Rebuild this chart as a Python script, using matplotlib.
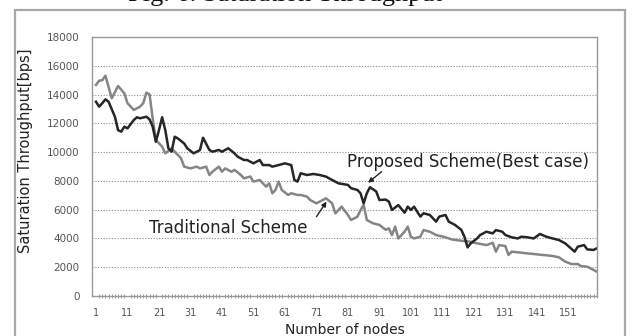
import matplotlib
matplotlib.use("Agg")
import matplotlib.pyplot as plt
from matplotlib.patches import Rectangle

# ---- data ----
proposed_nodes = [1, 2, 3, 4, 5, 7, 8, 9, 10, 11, 13, 14, 15, 17, 18, 19, 20, 21, 22, 23,
                  24, 25, 26, 27, 29, 30, 32, 34, 35, 37, 38, 40, 41, 43, 45, 46, 48, 49, 51, 53,
                  54, 56, 57, 59, 61, 63, 64, 65, 66, 68, 70, 72, 74, 76, 78, 81, 82, 84, 85, 86,
                  87, 88, 90, 91, 93, 94, 95, 97, 99, 100, 101, 102, 104, 105, 107, 109, 110, 112, 113, 115,
                  117, 118, 119, 120, 122, 123, 125, 127, 128, 130, 131, 133, 135, 136, 138, 140, 142, 144, 146, 148,
                  150, 153, 154, 156, 157, 159, 160]
proposed_values = [13500, 13160, 13400, 13670, 13500, 12460, 11530, 11420, 11770, 11650, 12230, 12420, 12350, 12460, 12280, 11770, 10720, 11530, 12420, 11530,
                   10260, 10030, 11070, 10950, 10600, 10260, 9915, 10140, 11000, 10150, 10030, 10150, 10030, 10265, 9910, 9680, 9450, 9450, 9220, 9450,
                   9100, 9100, 8990, 9100, 9220, 9100, 8060, 7950, 8530, 8410, 8480, 8410, 8300, 8060, 7830, 7720, 7490, 7370, 7140, 6440,
                   7140, 7560, 7260, 6670, 6700, 6560, 5980, 6320, 5790, 6210, 5980, 6210, 5520, 5750, 5630, 5170, 5520, 5630, 5170, 4940,
                   4600, 4120, 3380, 3660, 4000, 4240, 4470, 4350, 4580, 4470, 4240, 4080, 4000, 4120, 4080, 4000, 4310, 4120, 4000, 3890,
                   3660, 3080, 3430, 3540, 3240, 3200, 3310]

traditional_nodes = [1, 2, 3, 4, 6, 8, 10, 11, 13, 15, 16, 17, 18, 19, 20, 22, 23, 25, 26, 28,
                     29, 31, 33, 34, 36, 37, 38, 40, 41, 42, 44, 45, 47, 48, 50, 51, 53, 55, 56, 57,
                     58, 59, 60, 62, 63, 65, 66, 68, 69, 71, 73, 74, 76, 77, 79, 81, 82, 84, 85, 86,
                     87, 89, 91, 93, 94, 95, 96, 97, 99, 100, 101, 102, 104, 105, 107, 109, 112, 114, 117, 120,
                     122, 125, 127, 128, 129, 131, 132, 133, 136, 138, 140, 142, 144, 146, 148, 150, 152, 154, 155, 157,
                     158, 160]
traditional_values = [14670, 14965, 15000, 15310, 13740, 14595, 14085, 13400, 12930, 13160, 13400, 14130, 14020, 12350, 10840, 10380, 9915, 10260, 10030, 9570,
                      8990, 8870, 8990, 8870, 8990, 8410, 8640, 8990, 8640, 8870, 8640, 8760, 8410, 8180, 8300, 7950, 8060, 7600, 7830, 7140,
                      7370, 7950, 7370, 7020, 7140, 7020, 7020, 6910, 6670, 6440, 6670, 6790, 6440, 5740, 6210, 5630, 5280, 5510, 5970, 6330,
                      5280, 5050, 4940, 4600, 4700, 4240, 4820, 4000, 4470, 4820, 4120, 4000, 4120, 4580, 4470, 4240, 4080, 3930, 3840, 3770,
                      3660, 3540, 3700, 3080, 3540, 3470, 2850, 3080, 3010, 2960, 2920, 2870, 2830, 2780, 2690, 2390, 2220, 2220, 2080, 2040,
                      1920, 1700]

x_ticks = list(range(1, 152, 10))
y_ticks = list(range(0, 18001, 2000))

W, H = 635, 336
fig = plt.figure(figsize=(W / 100, H / 100), dpi=100)
fig.patch.set_facecolor("white")

# outer frame
fig.add_artist(Rectangle((15 / W, -0.05), 610 / W, (1 - 10 / H) + 0.05,
                         transform=fig.transFigure, fill=False,
                         edgecolor="#a8a8a8", linewidth=1.6))
# cut-off caption at top (only its lower part is visible in the reference)
fig.text(128 / W, 1 - 1.5 / H, "Fig. 6. Saturation Throughput", family="Liberation Serif",
         fontsize=19, ha="left", va="baseline", color="#111111")

ax = fig.add_axes([92 / W, 1 - 296 / H, (597 - 92) / W, (296 - 37) / H])
ax.plot(traditional_nodes, traditional_values, color="#858585", linewidth=1.8, solid_joinstyle="round")
ax.plot(proposed_nodes, proposed_values, color="#262626", linewidth=1.8, solid_joinstyle="round")

ax.set_xlim(-0.27, 160.1)
ax.set_ylim(0, 18000)
ax.set_xticks(x_ticks)
ax.set_xticklabels([str(t) for t in x_ticks])
ax.set_yticks(y_ticks)
ax.set_yticklabels([str(t) for t in y_ticks])
ax.set_xticks(range(1, 161), minor=True)
ax.tick_params(axis="x", which="major", length=0, labelsize=7, colors="#555555", pad=9)
ax.tick_params(axis="x", which="minor", length=3, width=0.6, color="#8a8a8a", direction="inout")
ax.tick_params(axis="y", length=0, labelsize=7.5, colors="#555555", pad=9)

for s in ax.spines.values():
    s.set_color("#9a9a9a")
    s.set_linewidth(1.0)

ax.grid(axis="y", color="#8c8c8c", linestyle=(0, (1, 1.5)), linewidth=0.8)
ax.set_axisbelow(True)

ax.set_ylabel("Saturation Throughput[bps]", fontsize=10.5, color="#222222",
              family="DejaVu Sans")
ax.yaxis.set_label_coords(-0.117, 0.56)
ax.set_xlabel("Number of nodes", fontsize=10, color="#222222", labelpad=3,
              family="DejaVu Sans")

ax.text(0.505, 0.517, "Proposed Scheme(Best case)", transform=ax.transAxes,
        fontsize=12, color="#222222", family="DejaVu Sans", ha="left", va="center")
ax.annotate("", xy=(87.4, 7870), xytext=(91.7, 8640),
            arrowprops=dict(arrowstyle="-|>", color="#222222", lw=1.0, mutation_scale=7,
                            shrinkA=0, shrinkB=0))
ax.text(0.112, 0.263, "Traditional Scheme", transform=ax.transAxes,
        fontsize=12, color="#222222", family="DejaVu Sans", ha="left", va="center")
ax.annotate("", xy=(74.2, 6560), xytext=(71, 5510),
            arrowprops=dict(arrowstyle="-|>", color="#222222", lw=1.0, mutation_scale=7,
                            shrinkA=0, shrinkB=0))

fig.savefig("out.png", dpi=100)
